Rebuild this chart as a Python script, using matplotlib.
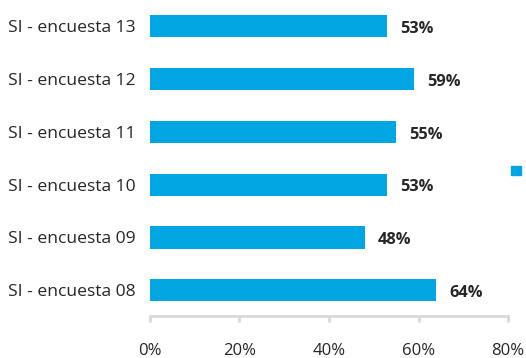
import matplotlib.pyplot as plt
from matplotlib.patches import Patch

plt.rcParams['font.family'] = ['Open Sans', 'DejaVu Sans']

# encuestas, de abajo hacia arriba
categorias = ['SI - encuesta 08', 'SI - encuesta 09', 'SI - encuesta 10',
              'SI - encuesta 11', 'SI - encuesta 12', 'SI - encuesta 13']
valores = [64, 48, 53, 55, 59, 53]
ticks = [0, 20, 40, 60, 80]

azul = '#00A6E2'
gris = '#D9D9D9'

fig = plt.figure(figsize=(5.26, 3.58), dpi=100)
ax = fig.add_axes([0.285, 0.117, 0.681, 0.883])

pos = range(len(categorias))
ax.barh(pos, valores, height=0.42, color=azul)

for y, v in zip(pos, valores):
    ax.text(v + 2.9, y - 0.05, f'{v}%', va='center', ha='left',
            fontsize=11.8, fontweight='bold', color='#262626')

ax.set_xlim(0, 80)
ax.set_ylim(-0.49, 5.5)
ax.set_yticks(list(pos))
ax.set_yticklabels(categorias, fontsize=12.6, color='#262626')
ax.set_xticks(ticks)
ax.set_xticklabels([f'{t}%' for t in ticks], fontsize=12, color='#262626')

for s in ['top', 'right', 'left']:
    ax.spines[s].set_visible(False)
ax.spines['bottom'].set_color(gris)
ax.spines['bottom'].set_linewidth(2)
ax.tick_params(axis='y', length=0, pad=10)
ax.tick_params(axis='x', length=4, width=2, color=gris, pad=15)

# marcador de leyenda sin texto
fig.legend(handles=[Patch(color=azul, label=' ')], loc='center left',
           bbox_to_anchor=(0.9715, 0.52), frameon=False, fontsize=10,
           handlelength=0.72, handleheight=0.72, handletextpad=0,
           borderpad=0, borderaxespad=0)

fig.savefig('out.png', dpi=100)
